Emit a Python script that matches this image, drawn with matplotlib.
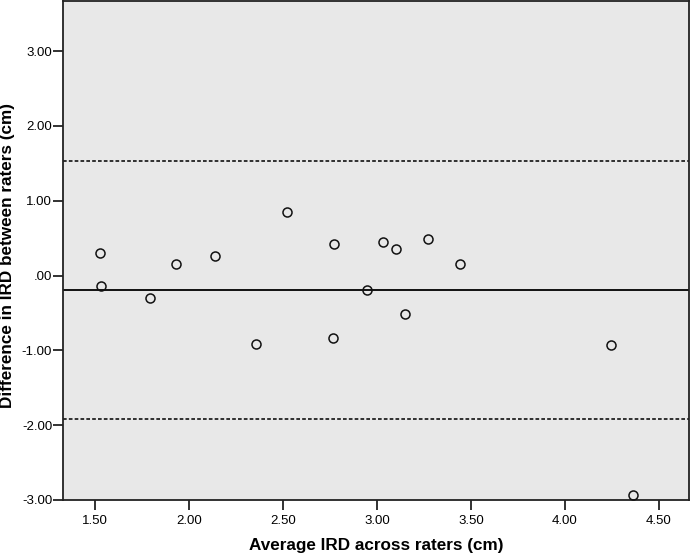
import numpy as np
import matplotlib
matplotlib.use("Agg")
import matplotlib.pyplot as plt

# Bland-Altman data: average IRD vs difference between raters (cm)
avg_ird = [1.524, 1.531, 1.792, 1.930, 2.139, 2.354, 2.521, 2.769, 2.764,
           2.945, 3.034, 3.102, 3.149, 3.271, 3.442, 4.246, 4.360]
diff_ird = [0.297, -0.137, -0.297, 0.151, 0.262, -0.915, 0.848, 0.426, -0.840,
            -0.195, 0.449, 0.351, -0.516, 0.484, 0.151, -0.929, -2.929]
mean_diff = -0.195
upper_loa = 1.529
lower_loa = -1.924

x_ticks = [1.5, 2.0, 2.5, 3.0, 3.5, 4.0, 4.5]
x_labels = ["1.50", "2.00", "2.50", "3.00", "3.50", "4.00", "4.50"]
y_ticks = [-3, -2, -1, 0, 1, 2, 3]
y_labels = ["-3.00", "-2.00", "-1.00", ".00", "1.00", "2.00", "3.00"]

plt.rcParams['font.family'] = ['Liberation Sans', 'DejaVu Sans']

fig = plt.figure(figsize=(6.91, 5.54), dpi=100)
ax = fig.add_axes([0.0916, 0.0975, 0.9059, 0.9005])
ax.set_facecolor('#e8e8e8')

ax.axhline(mean_diff, color='#111111', lw=1.4, zorder=2)
ax.axhline(upper_loa, color='#111111', lw=1.2, ls=(0, (2.2, 1.3)), zorder=2)
ax.axhline(lower_loa, color='#111111', lw=1.2, ls=(0, (2.2, 1.3)), zorder=2)

ax.plot(avg_ird, diff_ird, 'o', ms=6.5, mfc='none', mec='#111111', mew=1.1,
        zorder=3, clip_on=False)

ax.set_xlim(1.331, 4.661)
ax.set_ylim(-3.0, 3.667)
ax.set_xticks(x_ticks)
ax.set_xticklabels(x_labels)
ax.set_yticks(y_ticks)
ax.set_yticklabels(y_labels)

for s in ax.spines.values():
    s.set_color('#222222')
    s.set_linewidth(1.3)

ax.tick_params(axis='both', direction='out', length=7.5, width=1.3,
               color='#222222', labelsize=9.5)
ax.tick_params(axis='y', pad=0.5)
ax.tick_params(axis='x', pad=3)

ax.set_xlabel("Average IRD across raters (cm)", fontsize=12.3,
              fontweight='bold', labelpad=8)
ax.set_ylabel("Difference in IRD between raters (cm)", fontsize=12.3,
              fontweight='bold')
ax.yaxis.set_label_coords(-0.0764, 0.49)

fig.savefig("out.png", dpi=100)
plt.close(fig)
